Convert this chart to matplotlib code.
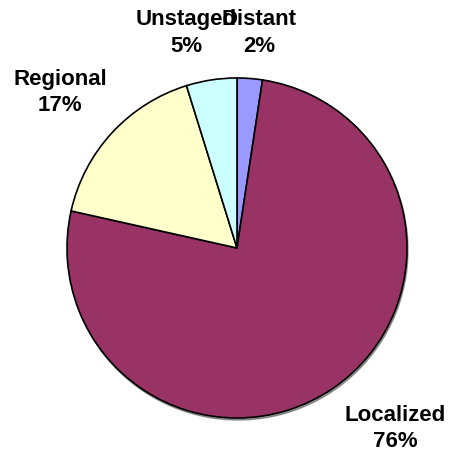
import matplotlib.pyplot as plt
from matplotlib.patches import Circle

# данные диаграммы (по часовой стрелке от верха)
stages = ['Distant', 'Localized', 'Regional', 'Unstaged']
shares = [2.4, 76.1, 16.7, 4.8]
pct_labels = ['2%', '76%', '17%', '5%']
colors = ['#9999FF', '#993366', '#FFFFCC', '#CCFFFF']

# позиции подписей (в координатах круга радиуса 1)
label_pos = [(0.13, 1.265), (0.93, -1.06), (-1.04, 0.915), (-0.30, 1.265)]

fig = plt.figure(figsize=(4.5, 4.57), dpi=100)
ax = fig.add_axes([0, 0, 1, 1])

# лёгкая тень под кругом
ax.add_patch(Circle((0.006, -0.012), 1.0, color='#444444', alpha=0.5, zorder=0))

ax.pie(shares, colors=colors, startangle=90, counterclock=False, radius=1.0,
       wedgeprops=dict(edgecolor='black', linewidth=1.2))

for name, pct, (x, y) in zip(stages, pct_labels, label_pos):
    ax.text(x, y, name + '\n' + pct, ha='center', va='center',
            multialignment='center', linespacing=1.33,
            fontsize=16, fontweight='bold', family='Liberation Sans')

ax.set_xlim(-237 / 170, 213 / 170)
ax.set_ylim(-209 / 170, 248 / 170)
ax.set_aspect('auto')
ax.axis('off')

fig.savefig('out.png', dpi=100)
